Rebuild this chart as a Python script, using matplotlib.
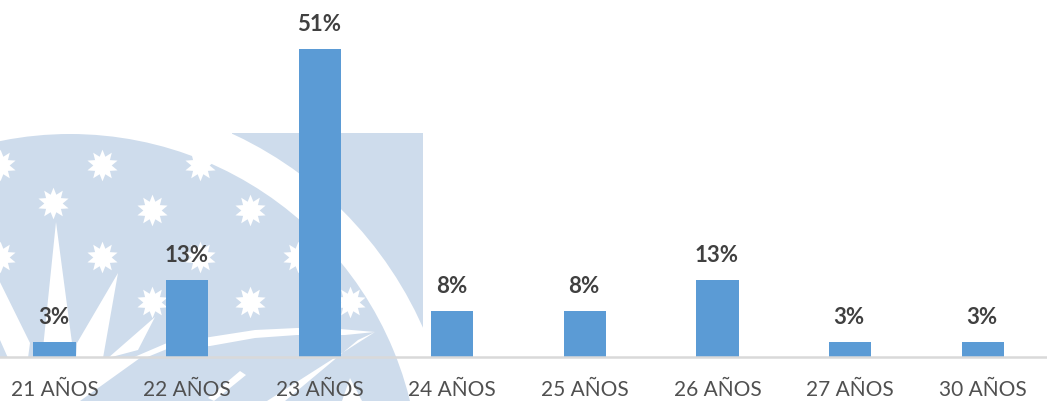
import matplotlib
matplotlib.use('Agg')
import matplotlib.pyplot as plt
import matplotlib.patches as mpatches
import numpy as np

categories = ['21 AÑOS', '22 AÑOS', '23 AÑOS', '24 AÑOS', '25 AÑOS', '26 AÑOS', '27 AÑOS', '30 AÑOS']
values = [2.56, 12.82, 51.28, 7.69, 7.69, 12.82, 2.56, 2.56]
labels = ['3%', '13%', '51%', '8%', '8%', '13%', '3%', '3%']

plt.rcParams['font.family'] = ['Lato', 'DejaVu Sans']

WM = '#CEDCEC'
BAR = '#5B9BD5'

fig = plt.figure(figsize=(10.47, 4.01), dpi=100)

# watermark logo behind the chart, in pixel coordinates
bg = fig.add_axes([0, 0, 1, 1], zorder=0)
bg.set_xlim(0, 1047)
bg.set_ylim(401, 0)
bg.axis('off')

rect = mpatches.Rectangle((0, 133), 423, 268, fc=WM, ec='none')
bg.add_patch(rect)
ring = mpatches.Wedge((70, 484), 386, 0, 360, width=36, fc='white', ec='none')
bg.add_patch(ring)
ring.set_clip_path(rect)
# hide the part of the rectangle left of the band, above the disc
bg.add_patch(mpatches.Rectangle((0, 100), 232, 33.5, fc='white', ec='none'))

# stars
ang = np.linspace(0, 2 * np.pi, 20, endpoint=False) + np.pi / 2
rad = np.where(np.arange(20) % 2 == 0, 1.0, 0.58)
star = np.column_stack([rad * np.cos(ang), rad * np.sin(ang)])
stars_x = [0, 102, 200, 53, 152, 250, 0, 102, 200, 298, 152, 250, 350]
stars_y = [165, 165, 165, 203, 210, 210, 257, 257, 257, 257, 302, 302, 302]
bg.scatter(stars_x, stars_y, marker=star, s=520, c='white', lw=0)

# rays of the sun
rays = [
    [(56, 222), (42, 358), (74, 358)],
    [(118, 273), (77, 343), (76, 358), (103, 358)],
    [(155, 317), (108, 358), (138, 350)],
    [(-6, 270), (30, 343), (28, 358), (8, 358), (0, 340)],
]
for r in rays:
    bg.add_patch(mpatches.Polygon(r, fc='white', ec='none'))

# white swoosh and area under the rays
bg.add_patch(mpatches.Polygon([(132, 358), (167, 343), (210, 337), (255, 330), (297, 328), (340, 329), (375, 332),
                               (345, 335), (297, 335), (255, 338), (210, 346), (167, 349), (145, 358)],
                              fc='white', ec='none'))
bg.add_patch(mpatches.Polygon([(375, 332), (267, 401), (285, 401), (358, 340)], fc='white', ec='none'))
bg.add_patch(mpatches.Polygon([(350, 378), (342, 401), (362, 401)], fc='white', ec='none'))
bg.add_patch(mpatches.Polygon([(0, 358), (140, 358), (80, 401), (0, 401)], fc='white', ec='none'))
bg.add_patch(mpatches.Polygon([(240, 371), (208, 398), (214, 401), (246, 375)], fc='white', ec='none'))

# chart itself
ax = fig.add_axes([0, 0, 1, 1], zorder=1)
ax.patch.set_alpha(0)
x = np.arange(len(categories))
ax.bar(x, values, width=0.317, color=BAR)
ax.set_xlim(-0.411, 7.485)
ax.set_ylim(-7.33, 59.5)
for s in ax.spines.values():
    s.set_visible(False)
ax.axhline(0, color='#D9D9D9', lw=1.8)
ax.set_yticks([])
ax.set_xticks([])

for i, v in enumerate(values):
    ax.annotate(labels[i], (i, v), xytext=(-1, 14), textcoords='offset pixels', ha='center', va='bottom',
                fontsize=16, color='#404040', fontweight='bold')
    ax.annotate(categories[i], (i, 0), xytext=(0, -43), textcoords='offset pixels', ha='center', va='bottom',
                fontsize=15, color='#505050')

fig.savefig('out.png', dpi=100)
